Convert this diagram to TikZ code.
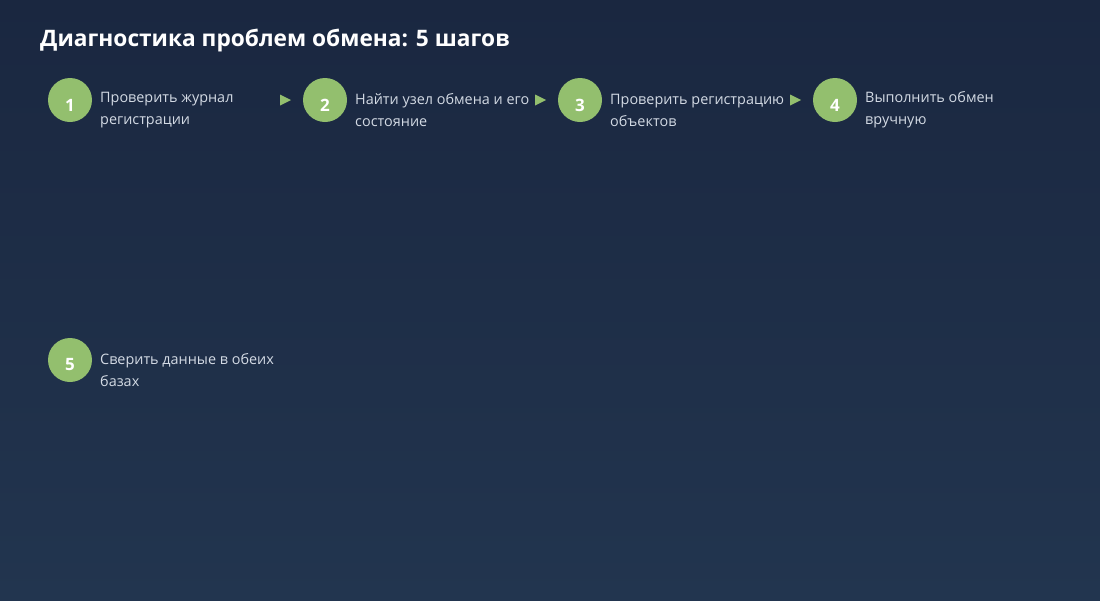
\documentclass[tikz,border=0pt]{standalone}
\usepackage{fontspec}
\setmainfont{Open Sans}
\definecolor{bgtop}{HTML}{1A2740}
\definecolor{bgbot}{HTML}{22354F}
\definecolor{stepgreen}{HTML}{93BF6E}
\definecolor{txt}{HTML}{D3DAE4}
\begin{document}
\begin{tikzpicture}[x=1pt,y=-1pt,
  stepcircle/.style={circle,fill=stepgreen,minimum size=44pt,inner sep=0pt},
  stepnum/.style={text=white,font=\fontsize{17}{20}\selectfont\bfseries},
  steptext/.style={anchor=west,text=txt,font=\fontsize{14.4}{22}\selectfont,align=left,inner sep=0pt},
  arrowtri/.style={fill=stepgreen}]
\shade[top color=bgtop,bottom color=bgbot] (0,0) rectangle (1100,600);
\useasboundingbox (0,0) rectangle (1100,600);
\node[anchor=base west,inner sep=0pt,text=white,font=\fontsize{22.7}{26}\selectfont\bfseries] (title) at (40,46) {Диагностика проблем обмена: 5 шагов};
% steps
\foreach \n/\x/\y/\t in {1/70/100/{Проверить журнал\\регистрации},
                        2/325/100/{Найти узел обмена и его\\состояние},
                        3/580/100/{Проверить регистрацию\\объектов},
                        4/835/100/{Выполнить обмен\\вручную},
                        5/70/360/{Сверить данные в обеих\\базах}}{
  \node[stepcircle] (c\n) at (\x,\y) {};
  \node[stepnum] (n\n) at (\x,\y+5) {\n};
  \node[steptext] (t\n) at (\x+30,\y+10) {\t};
}
% arrowheads between steps
\foreach \a/\x in {1/280,2/535,3/790}{
  \coordinate (a\a) at (\x,100);
  \fill[arrowtri] (a\a) ++(0,-5.5) -- ++(11,5.5) -- ++(-11,5.5) -- cycle;
}
\end{tikzpicture}
\end{document}
